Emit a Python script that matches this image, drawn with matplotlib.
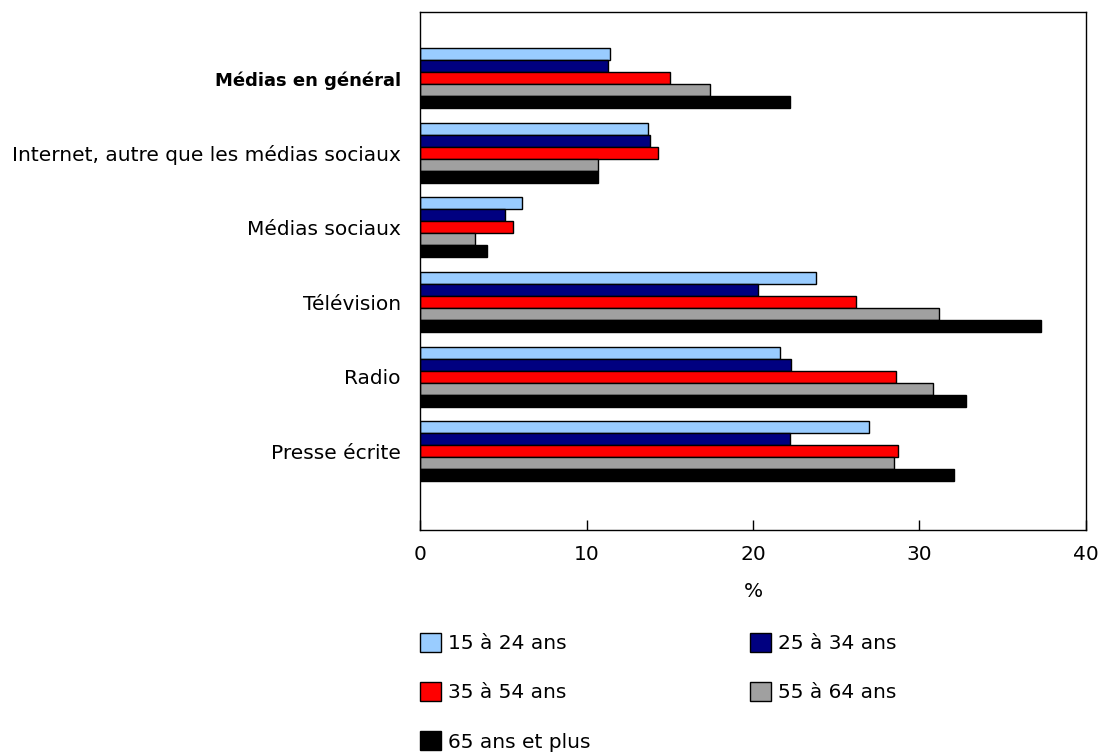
import numpy as np
import matplotlib.pyplot as plt
from matplotlib.patches import Patch

# --- data ---
categories = ["Médias en général", "Internet, autre que les médias sociaux",
              "Médias sociaux", "Télévision", "Radio", "Presse écrite"]
groups = ["15 à 24 ans", "25 à 34 ans", "35 à 54 ans", "55 à 64 ans", "65 ans et plus"]
age_15_24 = [11.4, 13.7, 6.1, 23.8, 21.6, 27.0]
age_25_34 = [11.3, 13.8, 5.1, 20.3, 22.3, 22.2]
age_35_54 = [15.0, 14.3, 5.6, 26.2, 28.6, 28.7]
age_55_64 = [17.4, 10.7, 3.3, 31.2, 30.8, 28.5]
age_65_plus = [22.2, 10.7, 4.0, 37.3, 32.8, 32.1]
xticks = [0, 10, 20, 30, 40]

series = [age_15_24, age_25_34, age_35_54, age_55_64, age_65_plus]
colors = ["#99CCFF", "#000080", "#FF0000", "#A0A0A0", "#000000"]

plt.rcParams['font.family'] = ['DejaVu Sans']
fs = 14.5

fig = plt.figure(figsize=(11, 7.52), dpi=100)
ax = fig.add_axes([0.382, 0.295, 0.605, 0.689])

y = np.arange(len(categories))
h = 0.161
for i, (vals, col) in enumerate(zip(series, colors)):
    ax.barh(y + (i - 2) * h, vals, height=h, color=col,
            edgecolor="black", linewidth=1, label=groups[i])

ax.set_ylim(6.06, -0.89)
ax.set_xlim(0, 40)
ax.set_yticks(y)
ax.set_yticklabels(categories, fontsize=fs)
# the "all media" row is in bold
first = ax.get_yticklabels()[0]
first.set_fontweight("bold")
first.set_fontsize(13)
ax.tick_params(axis="y", length=0, pad=14)
ax.set_xticks(xticks)
ax.tick_params(axis="x", direction="in", length=7, labelsize=fs, pad=11, width=1)
for s in ax.spines.values():
    s.set_linewidth(1)
ax.set_xlabel("%", fontsize=fs, labelpad=13)

handles = [Patch(facecolor=c, edgecolor="black", linewidth=1) for c in colors]
order = [0, 2, 4, 1, 3]
fig.legend([handles[k] for k in order], [groups[k] for k in order],
           loc="upper left", bbox_to_anchor=(0.382, 0.158), ncol=2,
           frameon=False, fontsize=fs, handlelength=1.04, handleheight=1.04,
           handletextpad=0.35, labelspacing=1.44, columnspacing=7.9,
           borderaxespad=0, borderpad=0)

fig.savefig("out.png", dpi=100)
